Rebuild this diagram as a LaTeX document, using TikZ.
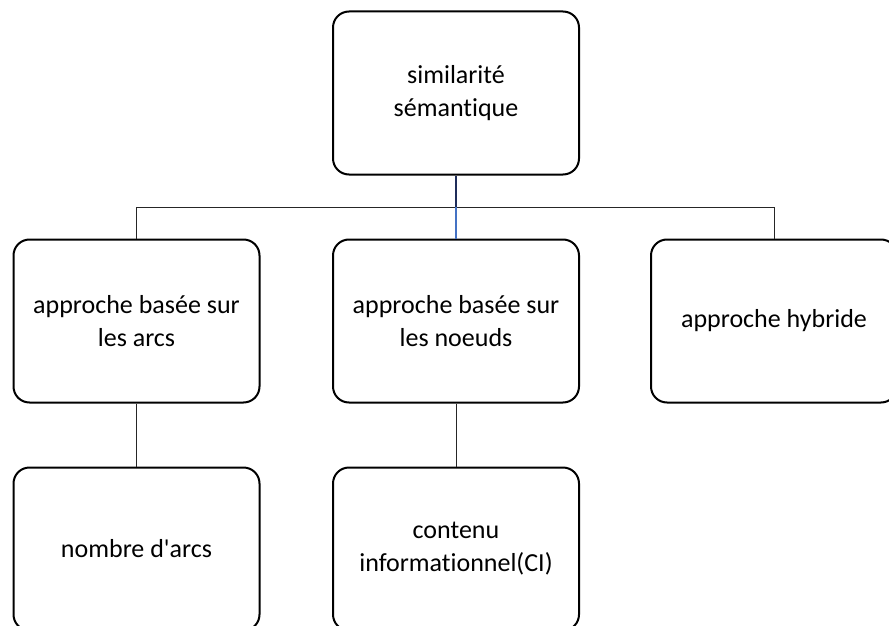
\documentclass[tikz,border=0pt]{standalone}
\usepackage{fontspec}
\setmainfont{Carlito}[Ligatures={NoCommon,NoRare,NoContextual}]
\begin{document}
\begin{tikzpicture}[x=1pt,y=-1pt,
  box/.style={draw=black, line width=2pt, rounded corners=16pt, fill=white,
    minimum width=246pt, minimum height=163pt, align=center,
    font=\fontsize{26}{33}\selectfont, inner sep=4pt},
  link/.style={draw=black!85, line width=1pt},
  linktop/.style={draw={rgb,255:red,31;green,45;blue,90}, line width=1.2pt},
  linkblue/.style={draw={rgb,255:red,68;green,114;blue,196}, line width=1.4pt}]
\useasboundingbox (0,0) rectangle (889,626);
\clip (0,0) rectangle (889,626);
\fill[white] (0,0) rectangle (889,626);

% hierarchy boxes
\node[box] (root) at (456,93) {similarité\\sémantique};
\node[box] (arcs) at (136.5,321) {approche basée sur\\les arcs};
\node[box] (noeuds) at (456,321) {approche basée sur\\les noeuds};
\node[box] (hyb) at (774,321) {approche hybride};
\node[box] (nb) at (136.5,549) {nombre d\textquotesingle arcs};
\node[box] (ci) at (456,549) {contenu\\informationnel(CI)};

% branching bus
\coordinate (bus) at (456,207);
\draw[link] (arcs.north) -- (arcs.north |- bus) -- (hyb.north |- bus) -- (hyb.north);
\draw[linktop] (root.south) -- (bus);
\draw[linkblue] (bus) -- (noeuds.north);

% lower level links
\draw[link] (arcs.south) -- (nb.north);
\draw[link] (noeuds.south) -- (ci.north);
\end{tikzpicture}
\end{document}
